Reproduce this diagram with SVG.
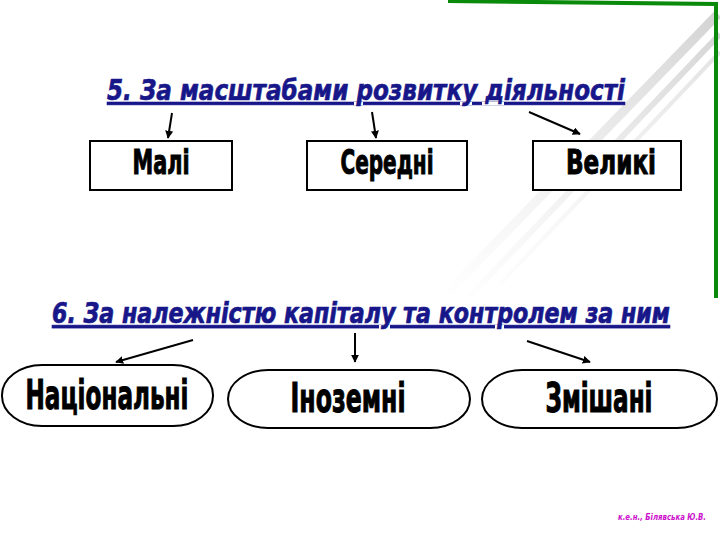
<svg xmlns="http://www.w3.org/2000/svg" width="720" height="540" viewBox="0 0 720 540">
<defs>
<style>
.title{font-family:"Liberation Sans Narrow","DejaVu Sans Condensed","Liberation Sans",sans-serif;font-weight:bold;font-style:italic;fill:#17178a;stroke:#17178a;stroke-width:0.6;text-decoration:underline}
.lbl{font-family:"Liberation Sans Narrow","DejaVu Sans Condensed","Liberation Sans",sans-serif;font-weight:bold;fill:#000;stroke:#000;stroke-width:1;text-anchor:middle}
.box{fill:#fff;stroke:#000;stroke-width:2}
.conn{stroke:#000;stroke-width:2;fill:none;marker-end:url(#ah)}
.foot{font-family:"Liberation Sans Narrow","DejaVu Sans Condensed","Liberation Sans",sans-serif;font-weight:bold;font-style:italic;fill:#cc10cc;font-size:9px}
</style>
<marker id="ah" viewBox="0 0 10 10" refX="9" refY="5" markerWidth="4" markerHeight="4" orient="auto" markerUnits="strokeWidth">
<path d="M0,0 L10,5 L0,10 z" fill="#000"/>
</marker>
<linearGradient id="fade" x1="720" y1="10" x2="440" y2="300" gradientUnits="userSpaceOnUse">
<stop offset="0" stop-color="#c8c8c8" stop-opacity="0.8"/>
<stop offset="1" stop-color="#e0e0e0" stop-opacity="0"/>
</linearGradient>
</defs>
<rect width="720" height="540" fill="#fff"/>
<g id="decor">
<path d="M718,14 L446,294" stroke="url(#fade)" stroke-width="9" fill="none"/>
<path d="M720,34 L470,296" stroke="url(#fade)" stroke-width="6" fill="none"/>
<path d="M720,52 L500,284" stroke="url(#fade)" stroke-width="4" fill="none" opacity="0.7"/>
<path d="M448,1 L716,4 L716,298" stroke="#0a8a0a" stroke-width="4" fill="none"/>
</g>
<g id="title5"><text class="title" x="107" y="100" font-size="29" textLength="518" lengthAdjust="spacingAndGlyphs">5. За масштабами  розвитку  діяльності</text></g>
<g id="mali"><rect class="box" x="90" y="141" width="142" height="49"/><text class="lbl" x="161" y="174" font-size="34" textLength="57" lengthAdjust="spacingAndGlyphs">Малі</text></g>
<g id="seredni"><rect class="box" x="307" y="141" width="160" height="49"/><text class="lbl" x="387" y="174" font-size="34" textLength="93" lengthAdjust="spacingAndGlyphs">Середні</text></g>
<g id="veliki"><rect class="box" x="533" y="141" width="148" height="49"/><text class="lbl" x="611" y="174" font-size="34" textLength="90" lengthAdjust="spacingAndGlyphs">Великі</text></g>
<g id="title6" transform="translate(52,323) scale(1,1.16)"><text class="title" x="0" y="0" font-size="25" textLength="618" lengthAdjust="spacingAndGlyphs">6. За належністю капіталу та контролем за ним</text></g>
<g id="natsionalni"><rect class="box" x="2" y="365" width="211" height="61" rx="40" ry="30"/><text class="lbl" x="107" y="409" font-size="40" textLength="163" lengthAdjust="spacingAndGlyphs">Національні</text></g>
<g id="inozemni"><rect class="box" x="228" y="370" width="242" height="58" rx="40" ry="29"/><text class="lbl" x="348" y="412" font-size="40" textLength="115" lengthAdjust="spacingAndGlyphs">Іноземні</text></g>
<g id="zmishani"><rect class="box" x="482" y="370" width="235" height="58" rx="40" ry="29"/><text class="lbl" x="599" y="412" font-size="40" textLength="107" lengthAdjust="spacingAndGlyphs">Змішані</text></g>
<g id="connectors">
<line class="conn" x1="172" y1="113" x2="168" y2="138"/>
<line class="conn" x1="372" y1="112" x2="376" y2="138"/>
<line class="conn" x1="529" y1="112" x2="580" y2="134"/>
<line class="conn" x1="193" y1="340" x2="116" y2="362"/>
<line class="conn" x1="355" y1="333" x2="355" y2="362"/>
<line class="conn" x1="527" y1="341" x2="590" y2="362"/>
</g>
<g id="footer"><text class="foot" x="618" y="520" textLength="88" lengthAdjust="spacingAndGlyphs">к.е.н., Білявська Ю.В.</text></g>
</svg>
